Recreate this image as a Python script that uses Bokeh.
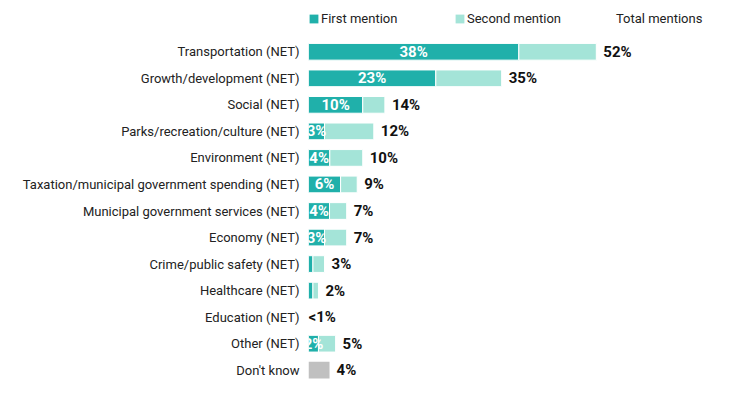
from bokeh.plotting import figure
from bokeh.models import ColumnDataSource, Range1d, FactorRange, Legend, LegendItem
from bokeh.layouts import column
from bokeh.core.properties import value
from bokeh.embed import file_html
from bokeh.resources import INLINE

categories = ["Transportation (NET)", "Growth/development (NET)", "Social (NET)",
              "Parks/recreation/culture (NET)", "Environment (NET)",
              "Taxation/municipal government spending (NET)",
              "Municipal government services (NET)", "Economy (NET)",
              "Crime/public safety (NET)", "Healthcare (NET)", "Education (NET)",
              "Other (NET)", "Don't know"]
first_mention = [38.0, 23.0, 9.8, 2.9, 3.85, 5.8, 3.8, 2.9, 0.8, 0.8, 0.0, 1.8, 0.0]
second_mention = [14.0, 11.9, 4.0, 8.9, 5.95, 3.0, 3.1, 4.0, 2.1, 1.0, 0.0, 3.1, 0.0]
dont_know = [0, 0, 0, 0, 0, 0, 0, 0, 0, 0, 0, 0, 3.8]
first_labels = ["38%", "23%", "10%", "3%", "4%", "6%", "4%", "3%", "", "", "", "2%", ""]
total_labels = ["52%", "35%", "14%", "12%", "10%", "9%", "7%", "7%", "3%", "2%", "<1%", "5%", "4%"]
legend_labels = ["First mention", "Second mention", " Total mentions"]

FONT = "Roboto"
TEAL = "#20B0AA"
LIGHT = "#A4E4D8"
GRAY = "#C0C0C0"

total = [f + s + d for f, s, d in zip(first_mention, second_mention, dont_know)]
src = ColumnDataSource(dict(
    cat=categories, first=first_mention,
    sec_right=[f + s for f, s in zip(first_mention, second_mention)],
    dk=dont_know, total=total, total_lab=total_labels,
    lab_off=[7 if t > 0 else 0 for t in total],
    first_mid=[f / 2 for f in first_mention], first_lab=first_labels,
))

# ---- legend strip (frame is aligned with the main chart's frame by the column) ----
lf = figure(width=738, height=38, output_backend="svg", toolbar_location=None,
            x_range=Range1d(0, 1), y_range=Range1d(0, 1),
            x_axis_location=None, y_axis_location=None,
            min_border_left=308, min_border_right=0, min_border_top=0, min_border_bottom=0)
lf.outline_line_color = None
lf.xgrid.visible = False
lf.ygrid.visible = False
# swatch holders: one zero-width row placed outside the strip's visible range
holder = ColumnDataSource(dict(y=[-10], l=[0], r=[0]))
l1 = lf.hbar(y="y", left="l", right="r", height=1, source=holder, fill_color=TEAL, line_color=None)
l2 = lf.hbar(y="y", left="l", right="r", height=1, source=holder, fill_color=LIGHT, line_color=None)
l3 = lf.hbar(y="y", left="l", right="r", height=1, source=holder, fill_alpha=0, line_alpha=0)
legend = Legend(items=[LegendItem(label=t, renderers=[r]) for t, r in
                       zip(legend_labels, [l1, l2, l3])],
                location=(0, 12), orientation="horizontal",
                glyph_width=11, glyph_height=11, label_standoff=2, padding=0, margin=0,
                spacing=0, label_width=133, border_line_color=None, background_fill_alpha=0,
                label_text_font=FONT, label_text_font_size="13px",
                label_text_color="#222222", label_height=11)
lf.add_layout(legend, "center")

# ---- main chart ----
p = figure(width=738, height=357, output_backend="svg", toolbar_location=None,
           y_range=FactorRange(factors=categories[::-1]), x_range=Range1d(0, 77.69),
           x_axis_location=None, min_border_left=308, min_border_right=0,
           min_border_top=0, min_border_bottom=12)
p.outline_line_color = None
p.xgrid.visible = False
p.ygrid.visible = False
p.yaxis.axis_line_color = None
p.yaxis.major_tick_line_color = None
p.yaxis.minor_tick_line_color = None
p.yaxis.major_tick_out = 0
p.yaxis.major_tick_in = 0
p.yaxis.major_label_standoff = 9
p.yaxis.major_label_text_font = FONT
p.yaxis.major_label_text_font_size = "13px"
p.yaxis.major_label_text_color = "#222222"

H = 0.63
p.hbar(y="cat", left=0, right="first", height=H, source=src, fill_color=TEAL,
       line_color="white", line_width=1)
p.hbar(y="cat", left="first", right="sec_right", height=H, source=src, fill_color=LIGHT,
       line_color="white", line_width=1)
p.hbar(y="cat", left=0, right="dk", height=H, source=src, fill_color=GRAY, line_color=None)

p.text(x="first_mid", y="cat", text="first_lab", source=src, text_align="center",
       text_baseline="middle", text_color="white", text_font=value(FONT),
       text_font_style="bold", text_font_size="15px")
p.text(x="total", y="cat", text="total_lab", source=src, x_offset="lab_off",
       text_align="left", text_baseline="middle", text_color="#111111",
       text_font=value(FONT), text_font_style="bold", text_font_size="15px")

layout = column(lf, p, spacing=0)
open("out.html", "w").write(file_html(layout, INLINE))
